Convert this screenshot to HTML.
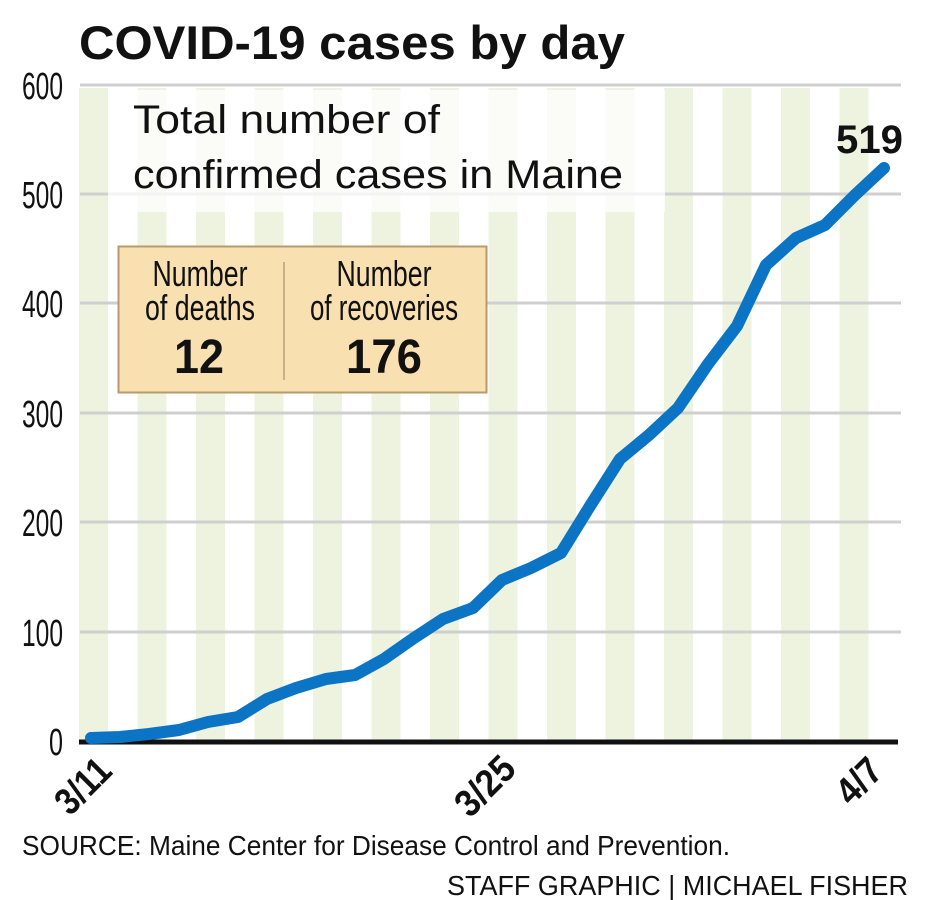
<!DOCTYPE html>
<html><head><meta charset="utf-8"><style>
html,body{margin:0;padding:0;background:#fff;}
svg{display:block;}
</style></head><body>
<svg width="926" height="900" viewBox="0 0 926 900" xmlns="http://www.w3.org/2000/svg" font-family="Liberation Sans, sans-serif">
<rect width="926" height="900" fill="#fff"/>
<g fill="#eef3df">
<rect x="79" y="88" width="29" height="652"/>
<rect x="137.5" y="88" width="29" height="652"/>
<rect x="196" y="88" width="29" height="652"/>
<rect x="254.5" y="88" width="29" height="652"/>
<rect x="313" y="88" width="29" height="652"/>
<rect x="371.5" y="88" width="29" height="652"/>
<rect x="430" y="88" width="29" height="652"/>
<rect x="488.5" y="88" width="29" height="652"/>
<rect x="547" y="88" width="29" height="652"/>
<rect x="605.5" y="88" width="29" height="652"/>
<rect x="664" y="88" width="29" height="652"/>
<rect x="722.5" y="88" width="29" height="652"/>
<rect x="781" y="88" width="29" height="652"/>
<rect x="839.5" y="88" width="29" height="652"/>
</g>
<g stroke="#cfcfcf" stroke-width="3">
<line x1="80" y1="85" x2="901" y2="85"/>
<line x1="80" y1="194" x2="901" y2="194"/>
<line x1="80" y1="303" x2="901" y2="303"/>
<line x1="80" y1="413" x2="901" y2="413"/>
<line x1="80" y1="522" x2="901" y2="522"/>
<line x1="80" y1="632" x2="901" y2="632"/>
</g>
<rect x="108" y="90" width="557" height="122" fill="#fff" fill-opacity="0.75"/>
<line x1="79" y1="742" x2="898" y2="742" stroke="#111" stroke-width="5"/>
<g font-size="38" fill="#111" text-anchor="end">
<text x="63" y="99" textLength="41" lengthAdjust="spacingAndGlyphs">600</text>
<text x="63" y="208" textLength="41" lengthAdjust="spacingAndGlyphs">500</text>
<text x="63" y="317" textLength="41" lengthAdjust="spacingAndGlyphs">400</text>
<text x="63" y="427" textLength="41" lengthAdjust="spacingAndGlyphs">300</text>
<text x="63" y="536" textLength="41" lengthAdjust="spacingAndGlyphs">200</text>
<text x="63" y="646" textLength="41" lengthAdjust="spacingAndGlyphs">100</text>
<text x="63" y="755" textLength="14" lengthAdjust="spacingAndGlyphs">0</text>
</g>
<text x="79" y="59" font-size="47" font-weight="bold" fill="#111" textLength="546" lengthAdjust="spacingAndGlyphs">COVID-19 cases by day</text>
<text x="133" y="133" font-size="40" fill="#111" textLength="307" lengthAdjust="spacingAndGlyphs">Total number of</text>
<text x="133" y="188" font-size="40" fill="#111" textLength="490" lengthAdjust="spacingAndGlyphs">confirmed cases in Maine</text>
<rect x="118.5" y="246.5" width="368" height="146" fill="#f9e0b0" stroke="#b89a6e" stroke-width="2"/>
<line x1="284" y1="262" x2="284" y2="380" stroke="#c9b08a" stroke-width="2"/>
<g fill="#111" text-anchor="middle">
<text x="200" y="286" font-size="36" textLength="95" lengthAdjust="spacingAndGlyphs">Number</text>
<text x="200" y="320" font-size="36" textLength="110" lengthAdjust="spacingAndGlyphs">of deaths</text>
<text x="199" y="373" font-size="48" font-weight="bold" textLength="50" lengthAdjust="spacingAndGlyphs">12</text>
<text x="384" y="286" font-size="36" textLength="95" lengthAdjust="spacingAndGlyphs">Number</text>
<text x="384" y="320" font-size="36" textLength="148" lengthAdjust="spacingAndGlyphs">of recoveries</text>
<text x="384" y="373" font-size="48" font-weight="bold" textLength="76" lengthAdjust="spacingAndGlyphs">176</text>
</g>
<polyline fill="none" stroke="#0b74c5" stroke-width="12" stroke-linecap="round" stroke-linejoin="round"
points="91,738 120,737 149,734 179,730 208,722 238,717 267,699 296,688 326,679 355,675 384,659 414,638 443,619 473,608 502,580 531,568 561,553 590,506 620,459 649,435 678,408 708,364 737,326 766,265 796,238 825,225 855,195 884,168"/>
<text x="903" y="153" font-size="40" font-weight="bold" fill="#111" text-anchor="end" textLength="67" lengthAdjust="spacingAndGlyphs">519</text>
<g font-size="38" font-weight="bold" fill="#111" text-anchor="middle">
<text transform="translate(92,795) rotate(-45)" textLength="62" lengthAdjust="spacingAndGlyphs">3/11</text>
<text transform="translate(494,795) rotate(-45)" textLength="68" lengthAdjust="spacingAndGlyphs">3/25</text>
<text transform="translate(868,790) rotate(-45)" textLength="48" lengthAdjust="spacingAndGlyphs">4/7</text>
</g>
<text x="22" y="855" font-size="28" fill="#111" textLength="708" lengthAdjust="spacingAndGlyphs">SOURCE: Maine Center for Disease Control and Prevention.</text>
<text x="908" y="895" font-size="28" fill="#111" text-anchor="end" textLength="461" lengthAdjust="spacingAndGlyphs">STAFF GRAPHIC | MICHAEL FISHER</text>
</svg>
</body></html>
